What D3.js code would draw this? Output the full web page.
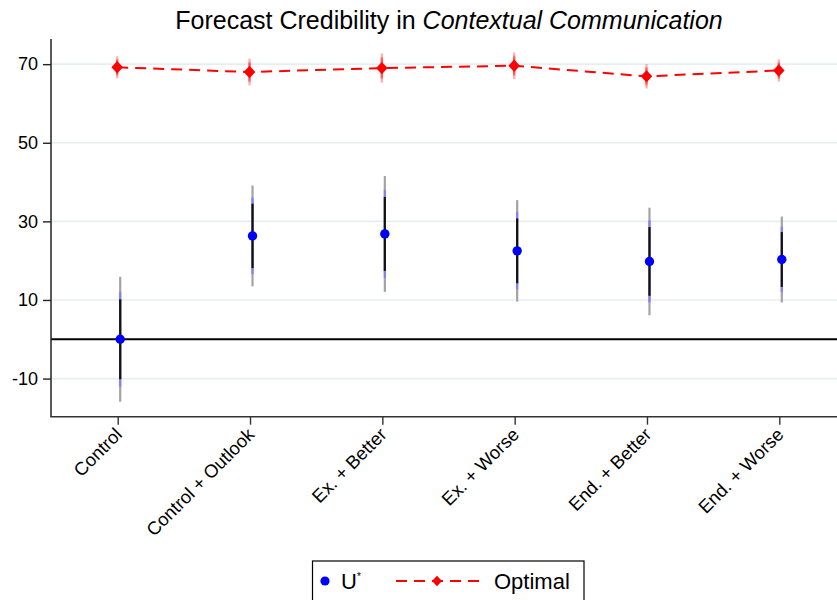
<!DOCTYPE html>
<html>
<head>
<meta charset="utf-8">
<script src="https://cdn.jsdelivr.net/npm/d3@7"></script>
<style>
  body { margin: 0; background: #fff; }
  svg { display: block; font-family: "Liberation Sans", Arial, Helvetica, sans-serif; }
</style>
</head>
<body>
<svg id="chart" width="837" height="600"></svg>
<script>
// Treatment arms
const categories = ["Control", "Control + Outlook", "Ex. + Better", "Ex. + Worse", "End. + Better", "End. + Worse"];
// U* point estimates and standard errors
const uStar = [0, 26.3, 26.8, 22.5, 19.8, 20.3];
const uStarSE = [6.17, 4.98, 5.72, 5.01, 5.31, 4.24];
// Optimal benchmark and its standard errors
const optimal = [69.2, 68.0, 69.0, 69.6, 66.9, 68.4];
const optimalSE = [1.09, 1.32, 1.44, 1.32, 1.20, 1.09];
// Axis ticks
const yTicks = [-10, 10, 30, 50, 70];
// Critical values for the 99%, 95% and 90% intervals (widest drawn first)
const ciZ = [2.576, 1.96, 1.645];

const svg = d3.select("#chart");
const plot = { left: 51, right: 837, top: 39, bottom: 416.7 };

const x = d3.scalePoint().domain(categories).range([117.7, 779.3]);
const y = d3.scaleLinear().domain([-19.7, 76.4]).range([plot.bottom, plot.top]);

const uOffset = 2.5, optOffset = -0.5;

// Title
const title = svg.append("text")
  .attr("x", 449).attr("y", 29)
  .attr("text-anchor", "middle")
  .style("font-size", "25px").attr("fill", "#000");
title.append("tspan").text("Forecast Credibility in ");
title.append("tspan").style("font-style", "italic").text("Contextual Communication");

// Gridlines
svg.append("g").selectAll("line").data(yTicks).join("line")
  .attr("x1", plot.left).attr("x2", plot.right)
  .attr("y1", d => y(d)).attr("y2", d => y(d))
  .attr("stroke", "#e7eef2").attr("stroke-width", 1.6);

// Reference line at zero
svg.append("line")
  .attr("x1", plot.left).attr("x2", plot.right)
  .attr("y1", y(0)).attr("y2", y(0))
  .attr("stroke", "#000").attr("stroke-width", 2);

// Y axis
const yAxis = svg.append("g").attr("transform", `translate(${plot.left},0)`)
  .call(d3.axisLeft(y).tickValues(yTicks).tickFormat(d => String(d))
    .tickSize(8).tickSizeOuter(0).tickPadding(5));
yAxis.select(".domain").remove();
yAxis.selectAll(".tick line").attr("stroke", "#222").attr("stroke-width", 1.4);
yAxis.selectAll(".tick text").style("font-size", "18px").attr("fill", "#000").attr("font-family", null);
svg.append("line")
  .attr("x1", plot.left).attr("x2", plot.left)
  .attr("y1", plot.top).attr("y2", plot.bottom)
  .attr("stroke", "#222").attr("stroke-width", 1.5);

// X axis
const xAxis = svg.append("g").attr("transform", `translate(0,${plot.bottom})`)
  .call(d3.axisBottom(x).tickSize(8).tickSizeOuter(0));
xAxis.select(".domain").remove();
xAxis.selectAll(".tick line").attr("stroke", "#333").attr("stroke-width", 1.4);
xAxis.selectAll(".tick text")
  .attr("x", 0).attr("y", 0).attr("dy", 0)
  .attr("transform", "translate(5,19) rotate(-45)")
  .style("text-anchor", "end")
  .style("font-size", "18.4px").attr("fill", "#000").attr("font-family", null);
svg.append("line")
  .attr("x1", plot.left - 0.75).attr("x2", plot.right)
  .attr("y1", plot.bottom).attr("y2", plot.bottom)
  .attr("stroke", "#333").attr("stroke-width", 1.5);

// Confidence intervals for U*
const uColors = ["#a3a3a3", "#7f7fff", "#111111"];
ciZ.forEach((z, k) => {
  svg.append("g").selectAll("line").data(categories).join("line")
    .attr("x1", d => x(d) + uOffset).attr("x2", d => x(d) + uOffset)
    .attr("y1", (d, i) => y(uStar[i] - z * uStarSE[i]))
    .attr("y2", (d, i) => y(uStar[i] + z * uStarSE[i]))
    .attr("stroke", uColors[k]).attr("stroke-width", 2.2);
});

// Confidence intervals for the optimal benchmark
ciZ.forEach(z => {
  svg.append("g").selectAll("line").data(categories).join("line")
    .attr("x1", d => x(d) + optOffset).attr("x2", d => x(d) + optOffset)
    .attr("y1", (d, i) => y(optimal[i] - z * optimalSE[i]))
    .attr("y2", (d, i) => y(optimal[i] + z * optimalSE[i]))
    .attr("stroke", "#ff0000").attr("stroke-opacity", 0.3).attr("stroke-width", 2.4);
});

// Dashed connecting line for the optimal benchmark
const optLine = d3.line().x(d => x(d.c) + optOffset).y(d => y(d.v));
svg.append("path")
  .datum(categories.map((c, i) => ({ c, v: optimal[i] })))
  .attr("d", optLine)
  .attr("fill", "none").attr("stroke", "#ff0000").attr("stroke-width", 2)
  .attr("stroke-dasharray", "11,7");

// Diamond marker shape
const diamond = (w, h) => `M0,${-h}L${w},0L0,${h}L${-w},0Z`;

svg.append("g").selectAll("path").data(categories).join("path")
  .attr("transform", (d, i) => `translate(${x(d) + optOffset},${y(optimal[i])})`)
  .attr("d", diamond(5.8, 6.2))
  .attr("fill", "#ff0000");

// U* markers
svg.append("g").selectAll("circle").data(categories).join("circle")
  .attr("cx", d => x(d) + uOffset)
  .attr("cy", (d, i) => y(uStar[i]))
  .attr("r", 4.7)
  .attr("fill", "#0000ff");

// Legend
const lg = svg.append("g");
lg.append("rect")
  .attr("x", 312.5).attr("y", 561).attr("width", 271.5).attr("height", 60)
  .attr("fill", "#fff").attr("stroke", "#000").attr("stroke-width", 1.2);
lg.append("circle").attr("cx", 325).attr("cy", 581).attr("r", 4.6).attr("fill", "#0000ff");
const uLabel = lg.append("text").attr("x", 341).attr("y", 589)
  .style("font-size", "22px").attr("fill", "#000");
uLabel.append("tspan").text("U");
uLabel.append("tspan").attr("dy", -9).style("font-size", "10px").text("*");
lg.append("line")
  .attr("x1", 396).attr("x2", 481).attr("y1", 581).attr("y2", 581)
  .attr("stroke", "#ff0000").attr("stroke-width", 2).attr("stroke-dasharray", "11,7");
lg.append("path").attr("transform", "translate(437,581)")
  .attr("d", diamond(5, 5.3)).attr("fill", "#ff0000");
lg.append("text").attr("x", 494).attr("y", 589)
  .style("font-size", "22px").attr("fill", "#000").text("Optimal");
</script>
</body>
</html>
